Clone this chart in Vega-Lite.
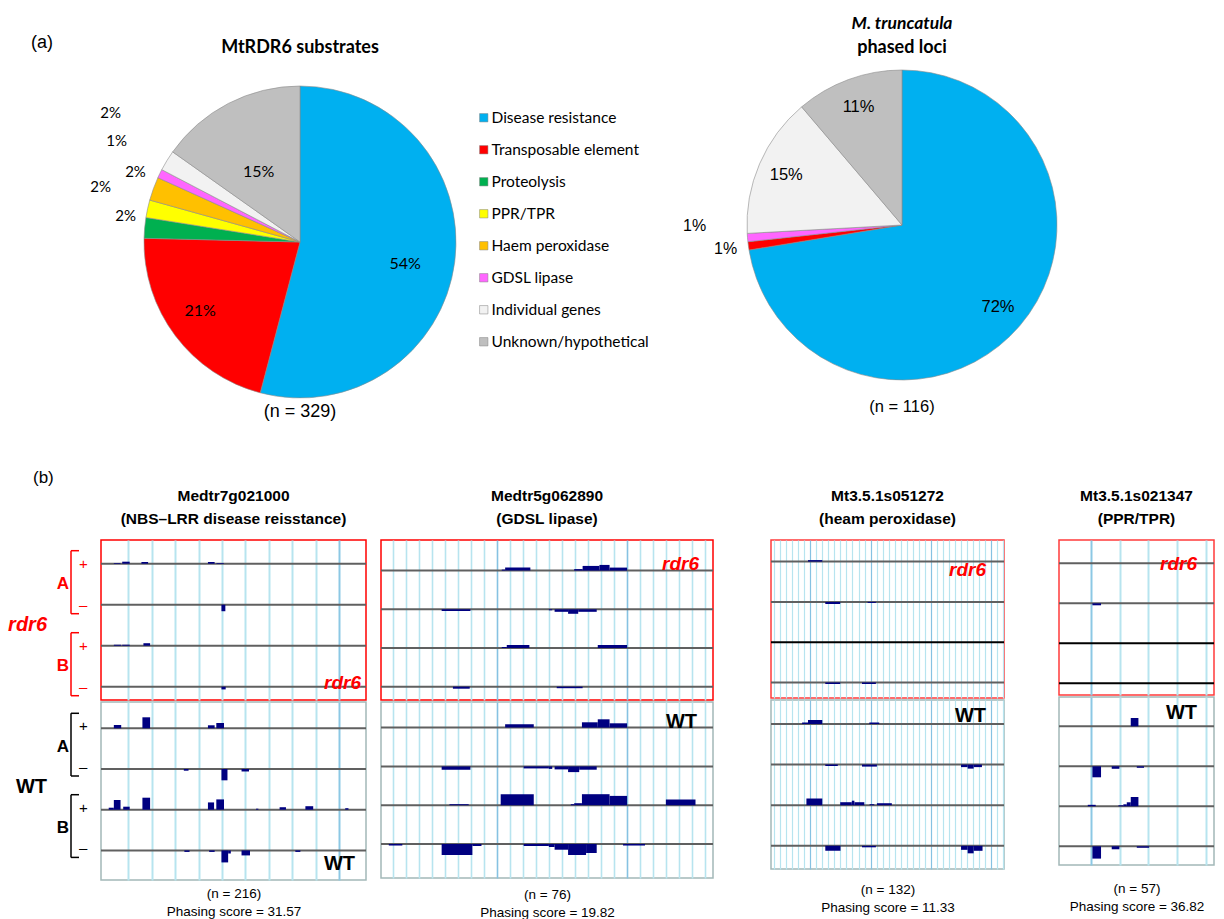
{
  "$schema": "https://vega.github.io/schema/vega-lite/v6.json",
  "background": "white",
  "padding": {"left": 0, "right": 0, "top": 10, "bottom": 0},
  "spacing": 47,
  "config": {"view": {"stroke": null}, "font": "Liberation Sans", "axis": {"labels": false, "ticks": false, "domain": false}},
  "datasets": {
    "pie1": [
      {"category": "Disease resistance", "rank": 1, "count": 178, "pct": 0.54},
      {"category": "Transposable element", "rank": 2, "count": 70, "pct": 0.21},
      {"category": "Proteolysis", "rank": 3, "count": 7, "pct": 0.02},
      {"category": "PPR/TPR", "rank": 4, "count": 6, "pct": 0.02},
      {"category": "Haem peroxidase", "rank": 5, "count": 8, "pct": 0.02},
      {"category": "GDSL lipase", "rank": 6, "count": 3, "pct": 0.01},
      {"category": "Individual genes", "rank": 7, "count": 7, "pct": 0.02},
      {"category": "Unknown/hypothetical", "rank": 8, "count": 50, "pct": 0.15}
    ],
    "pie2": [
      {"category": "Disease resistance", "rank": 1, "count": 84, "pct": 0.72},
      {"category": "Transposable element", "rank": 2, "count": 1, "pct": 0.01},
      {"category": "GDSL lipase", "rank": 6, "count": 1, "pct": 0.01},
      {"category": "Individual genes", "rank": 7, "count": 17, "pct": 0.15},
      {"category": "Unknown/hypothetical", "rank": 8, "count": 13, "pct": 0.11}
    ],
    "lanes": [
      {"panel": "p1", "geno": "rdr6", "lane": 0, "lib": "A", "strand": "+", "status": "reads"},
      {"panel": "p1", "geno": "rdr6", "lane": 1, "lib": "A", "strand": "–", "status": "reads"},
      {"panel": "p1", "geno": "rdr6", "lane": 2, "lib": "B", "strand": "+", "status": "reads"},
      {"panel": "p1", "geno": "rdr6", "lane": 3, "lib": "B", "strand": "–", "status": "reads"},
      {"panel": "p1", "geno": "WT", "lane": 0, "lib": "A", "strand": "+", "status": "reads"},
      {"panel": "p1", "geno": "WT", "lane": 1, "lib": "A", "strand": "–", "status": "reads"},
      {"panel": "p1", "geno": "WT", "lane": 2, "lib": "B", "strand": "+", "status": "reads"},
      {"panel": "p1", "geno": "WT", "lane": 3, "lib": "B", "strand": "–", "status": "reads"},
      {"panel": "p2", "geno": "rdr6", "lane": 0, "lib": "A", "strand": "+", "status": "reads"},
      {"panel": "p2", "geno": "rdr6", "lane": 1, "lib": "A", "strand": "–", "status": "reads"},
      {"panel": "p2", "geno": "rdr6", "lane": 2, "lib": "B", "strand": "+", "status": "reads"},
      {"panel": "p2", "geno": "rdr6", "lane": 3, "lib": "B", "strand": "–", "status": "reads"},
      {"panel": "p2", "geno": "WT", "lane": 0, "lib": "A", "strand": "+", "status": "reads"},
      {"panel": "p2", "geno": "WT", "lane": 1, "lib": "A", "strand": "–", "status": "reads"},
      {"panel": "p2", "geno": "WT", "lane": 2, "lib": "B", "strand": "+", "status": "reads"},
      {"panel": "p2", "geno": "WT", "lane": 3, "lib": "B", "strand": "–", "status": "reads"},
      {"panel": "p3", "geno": "rdr6", "lane": 0, "lib": "A", "strand": "+", "status": "reads"},
      {"panel": "p3", "geno": "rdr6", "lane": 1, "lib": "A", "strand": "–", "status": "reads"},
      {"panel": "p3", "geno": "rdr6", "lane": 2, "lib": "B", "strand": "+", "status": "no reads"},
      {"panel": "p3", "geno": "rdr6", "lane": 3, "lib": "B", "strand": "–", "status": "reads"},
      {"panel": "p3", "geno": "WT", "lane": 0, "lib": "A", "strand": "+", "status": "reads"},
      {"panel": "p3", "geno": "WT", "lane": 1, "lib": "A", "strand": "–", "status": "reads"},
      {"panel": "p3", "geno": "WT", "lane": 2, "lib": "B", "strand": "+", "status": "reads"},
      {"panel": "p3", "geno": "WT", "lane": 3, "lib": "B", "strand": "–", "status": "reads"},
      {"panel": "p4", "geno": "rdr6", "lane": 0, "lib": "A", "strand": "+", "status": "reads"},
      {"panel": "p4", "geno": "rdr6", "lane": 1, "lib": "A", "strand": "–", "status": "reads"},
      {"panel": "p4", "geno": "rdr6", "lane": 2, "lib": "B", "strand": "+", "status": "no reads"},
      {"panel": "p4", "geno": "rdr6", "lane": 3, "lib": "B", "strand": "–", "status": "no reads"},
      {"panel": "p4", "geno": "WT", "lane": 0, "lib": "A", "strand": "+", "status": "reads"},
      {"panel": "p4", "geno": "WT", "lane": 1, "lib": "A", "strand": "–", "status": "reads"},
      {"panel": "p4", "geno": "WT", "lane": 2, "lib": "B", "strand": "+", "status": "reads"},
      {"panel": "p4", "geno": "WT", "lane": 3, "lib": "B", "strand": "–", "status": "reads"}
    ],
    "bars": [
      {"panel": "p1", "geno": "rdr6", "lane": 0, "start": 11.5, "end": 17.5, "v": 1.7},
      {"panel": "p1", "geno": "rdr6", "lane": 0, "start": 19, "end": 25.7, "v": 4.9},
      {"panel": "p1", "geno": "rdr6", "lane": 0, "start": 36.2, "end": 42.2, "v": 4.1},
      {"panel": "p1", "geno": "rdr6", "lane": 0, "start": 95.8, "end": 101.8, "v": 4.1},
      {"panel": "p1", "geno": "rdr6", "lane": 0, "start": 103.4, "end": 110, "v": 1.7},
      {"panel": "p1", "geno": "rdr6", "lane": 1, "start": 107.9, "end": 111.4, "v": -15.9},
      {"panel": "p1", "geno": "rdr6", "lane": 2, "start": 11.5, "end": 18.1, "v": 2.4},
      {"panel": "p1", "geno": "rdr6", "lane": 2, "start": 19, "end": 25.7, "v": 2.4},
      {"panel": "p1", "geno": "rdr6", "lane": 2, "start": 38, "end": 44, "v": 6.1},
      {"panel": "p1", "geno": "rdr6", "lane": 3, "start": 107.9, "end": 111.7, "v": -6.6},
      {"panel": "p1", "geno": "WT", "lane": 0, "start": 11.5, "end": 18.1, "v": 8.1},
      {"panel": "p1", "geno": "WT", "lane": 0, "start": 37.1, "end": 44, "v": 27},
      {"panel": "p1", "geno": "WT", "lane": 0, "start": 95.8, "end": 101.8, "v": 7.4},
      {"panel": "p1", "geno": "WT", "lane": 0, "start": 103.3, "end": 110.2, "v": 13},
      {"panel": "p1", "geno": "WT", "lane": 1, "start": 74.2, "end": 78.4, "v": -4.2},
      {"panel": "p1", "geno": "WT", "lane": 1, "start": 107.9, "end": 113.3, "v": -27.8},
      {"panel": "p1", "geno": "WT", "lane": 1, "start": 125.9, "end": 132.6, "v": -6.1},
      {"panel": "p1", "geno": "WT", "lane": 2, "start": 6.9, "end": 11.5, "v": 4.9},
      {"panel": "p1", "geno": "WT", "lane": 2, "start": 11.5, "end": 17.5, "v": 23.8},
      {"panel": "p1", "geno": "WT", "lane": 2, "start": 19.9, "end": 25.7, "v": 7.4},
      {"panel": "p1", "geno": "WT", "lane": 2, "start": 37.1, "end": 44, "v": 29.5},
      {"panel": "p1", "geno": "WT", "lane": 2, "start": 95.8, "end": 101.3, "v": 17.9},
      {"panel": "p1", "geno": "WT", "lane": 2, "start": 103.3, "end": 110.2, "v": 25.3},
      {"panel": "p1", "geno": "WT", "lane": 2, "start": 138.9, "end": 141, "v": 2.5},
      {"panel": "p1", "geno": "WT", "lane": 2, "start": 160, "end": 165.7, "v": 6.1},
      {"panel": "p1", "geno": "WT", "lane": 2, "start": 183.1, "end": 190.1, "v": 8.6},
      {"panel": "p1", "geno": "WT", "lane": 2, "start": 218.8, "end": 221.7, "v": 3.7},
      {"panel": "p1", "geno": "WT", "lane": 3, "start": 74.7, "end": 79.3, "v": -3.7},
      {"panel": "p1", "geno": "WT", "lane": 3, "start": 96.9, "end": 101.8, "v": -3.7},
      {"panel": "p1", "geno": "WT", "lane": 3, "start": 107.9, "end": 113.9, "v": -29.5},
      {"panel": "p1", "geno": "WT", "lane": 3, "start": 113.9, "end": 116.3, "v": -7.4},
      {"panel": "p1", "geno": "WT", "lane": 3, "start": 125.9, "end": 133.5, "v": -12.3},
      {"panel": "p1", "geno": "WT", "lane": 3, "start": 174.1, "end": 178.6, "v": -3.7},
      {"panel": "p2", "geno": "rdr6", "lane": 0, "start": 195.3, "end": 200.8, "v": 2.6},
      {"panel": "p2", "geno": "rdr6", "lane": 0, "start": 200.8, "end": 241.6, "v": 7.8},
      {"panel": "p2", "geno": "rdr6", "lane": 0, "start": 312.5, "end": 326.1, "v": 3.9},
      {"panel": "p2", "geno": "rdr6", "lane": 0, "start": 326.1, "end": 353.3, "v": 12.1},
      {"panel": "p2", "geno": "rdr6", "lane": 0, "start": 353.3, "end": 369.7, "v": 14.7},
      {"panel": "p2", "geno": "rdr6", "lane": 0, "start": 369.7, "end": 398, "v": 7.8},
      {"panel": "p2", "geno": "rdr6", "lane": 1, "start": 98.1, "end": 144.6, "v": -4.4},
      {"panel": "p2", "geno": "rdr6", "lane": 1, "start": 271.5, "end": 277, "v": -2.6},
      {"panel": "p2", "geno": "rdr6", "lane": 1, "start": 280.8, "end": 302.6, "v": -6.5},
      {"panel": "p2", "geno": "rdr6", "lane": 1, "start": 302.6, "end": 319, "v": -11.6},
      {"panel": "p2", "geno": "rdr6", "lane": 1, "start": 319, "end": 348.9, "v": -6.5},
      {"panel": "p2", "geno": "rdr6", "lane": 2, "start": 195.3, "end": 203.4, "v": 2.6},
      {"panel": "p2", "geno": "rdr6", "lane": 2, "start": 203.4, "end": 240, "v": 7.8},
      {"panel": "p2", "geno": "rdr6", "lane": 2, "start": 350.6, "end": 398, "v": 7.8},
      {"panel": "p2", "geno": "rdr6", "lane": 3, "start": 116.3, "end": 143.5, "v": -5.2},
      {"panel": "p2", "geno": "rdr6", "lane": 3, "start": 284.2, "end": 326.1, "v": -3.9},
      {"panel": "p2", "geno": "WT", "lane": 0, "start": 200.8, "end": 247.1, "v": 8.5},
      {"panel": "p2", "geno": "WT", "lane": 0, "start": 325, "end": 350.6, "v": 13.7},
      {"panel": "p2", "geno": "WT", "lane": 0, "start": 350.6, "end": 369.7, "v": 21.4},
      {"panel": "p2", "geno": "WT", "lane": 0, "start": 369.7, "end": 398, "v": 11.1},
      {"panel": "p2", "geno": "WT", "lane": 1, "start": 98.1, "end": 144.6, "v": -8.5},
      {"panel": "p2", "geno": "WT", "lane": 1, "start": 230.7, "end": 271.5, "v": -5.2},
      {"panel": "p2", "geno": "WT", "lane": 1, "start": 271.5, "end": 277, "v": -6.4},
      {"panel": "p2", "geno": "WT", "lane": 1, "start": 280.8, "end": 302.6, "v": -7.7},
      {"panel": "p2", "geno": "WT", "lane": 1, "start": 302.6, "end": 320.6, "v": -14.7},
      {"panel": "p2", "geno": "WT", "lane": 1, "start": 320.6, "end": 348.9, "v": -8.5},
      {"panel": "p2", "geno": "WT", "lane": 2, "start": 110.7, "end": 141.8, "v": 2.6},
      {"panel": "p2", "geno": "WT", "lane": 2, "start": 193.6, "end": 247.1, "v": 28.4},
      {"panel": "p2", "geno": "WT", "lane": 2, "start": 307, "end": 312.5, "v": 2.6},
      {"panel": "p2", "geno": "WT", "lane": 2, "start": 312.5, "end": 325, "v": 5.2},
      {"panel": "p2", "geno": "WT", "lane": 2, "start": 325, "end": 369.7, "v": 28.4},
      {"panel": "p2", "geno": "WT", "lane": 2, "start": 369.7, "end": 398, "v": 24},
      {"panel": "p2", "geno": "WT", "lane": 2, "start": 460.8, "end": 508.7, "v": 14.7},
      {"panel": "p2", "geno": "WT", "lane": 3, "start": 12.6, "end": 34.5, "v": -3.9},
      {"panel": "p2", "geno": "WT", "lane": 3, "start": 98.1, "end": 147.8, "v": -28.4},
      {"panel": "p2", "geno": "WT", "lane": 3, "start": 147.8, "end": 162.5, "v": -5.2},
      {"panel": "p2", "geno": "WT", "lane": 3, "start": 230.7, "end": 271.5, "v": -5.2},
      {"panel": "p2", "geno": "WT", "lane": 3, "start": 271.5, "end": 280.8, "v": -7.7},
      {"panel": "p2", "geno": "WT", "lane": 3, "start": 280.8, "end": 302.6, "v": -14.7},
      {"panel": "p2", "geno": "WT", "lane": 3, "start": 302.6, "end": 331.7, "v": -28.4},
      {"panel": "p2", "geno": "WT", "lane": 3, "start": 331.7, "end": 348.9, "v": -23.2},
      {"panel": "p2", "geno": "WT", "lane": 3, "start": 391.5, "end": 427, "v": -3.9},
      {"panel": "p3", "geno": "rdr6", "lane": 0, "start": 129.3, "end": 179.2, "v": 3.7},
      {"panel": "p3", "geno": "rdr6", "lane": 1, "start": 189.7, "end": 241.8, "v": -5},
      {"panel": "p3", "geno": "rdr6", "lane": 1, "start": 337.5, "end": 366.5, "v": -2.5},
      {"panel": "p3", "geno": "rdr6", "lane": 3, "start": 189.7, "end": 241.8, "v": -3.7},
      {"panel": "p3", "geno": "rdr6", "lane": 3, "start": 317.9, "end": 366.5, "v": -3.7},
      {"panel": "p3", "geno": "WT", "lane": 0, "start": 108.7, "end": 129.3, "v": 3.7},
      {"panel": "p3", "geno": "WT", "lane": 0, "start": 129.3, "end": 179.2, "v": 9.9},
      {"panel": "p3", "geno": "WT", "lane": 0, "start": 343.5, "end": 378.1, "v": 3.7},
      {"panel": "p3", "geno": "WT", "lane": 1, "start": 189.7, "end": 233.4, "v": -3.7},
      {"panel": "p3", "geno": "WT", "lane": 1, "start": 317.9, "end": 370, "v": -4.9},
      {"panel": "p3", "geno": "WT", "lane": 1, "start": 663.9, "end": 687, "v": -6.2},
      {"panel": "p3", "geno": "WT", "lane": 1, "start": 687, "end": 708, "v": -9.9},
      {"panel": "p3", "geno": "WT", "lane": 1, "start": 708, "end": 736.9, "v": -6.2},
      {"panel": "p3", "geno": "WT", "lane": 2, "start": 123.7, "end": 179.2, "v": 16.5},
      {"panel": "p3", "geno": "WT", "lane": 2, "start": 241.8, "end": 282.3, "v": 7.4},
      {"panel": "p3", "geno": "WT", "lane": 2, "start": 282.3, "end": 291.4, "v": 11.1},
      {"panel": "p3", "geno": "WT", "lane": 2, "start": 291.4, "end": 326, "v": 7.4},
      {"panel": "p3", "geno": "WT", "lane": 2, "start": 344.5, "end": 360.9, "v": 2.5},
      {"panel": "p3", "geno": "WT", "lane": 2, "start": 370, "end": 422.1, "v": 4.9},
      {"panel": "p3", "geno": "WT", "lane": 3, "start": 189.7, "end": 242.9, "v": -12.3},
      {"panel": "p3", "geno": "WT", "lane": 3, "start": 317.9, "end": 366.5, "v": -3.7},
      {"panel": "p3", "geno": "WT", "lane": 3, "start": 663.9, "end": 687, "v": -9.9},
      {"panel": "p3", "geno": "WT", "lane": 3, "start": 687, "end": 708, "v": -18.5},
      {"panel": "p3", "geno": "WT", "lane": 3, "start": 708, "end": 739, "v": -12.3},
      {"panel": "p4", "geno": "rdr6", "lane": 1, "start": 24.4, "end": 30.7, "v": -5},
      {"panel": "p4", "geno": "WT", "lane": 0, "start": 52.4, "end": 58, "v": 20.8},
      {"panel": "p4", "geno": "WT", "lane": 1, "start": 24.4, "end": 30.7, "v": -27.5},
      {"panel": "p4", "geno": "WT", "lane": 1, "start": 38.5, "end": 44.1, "v": -6.2},
      {"panel": "p4", "geno": "WT", "lane": 1, "start": 56.8, "end": 62.1, "v": -3.7},
      {"panel": "p4", "geno": "WT", "lane": 2, "start": 21, "end": 26.8, "v": 3.7},
      {"panel": "p4", "geno": "WT", "lane": 2, "start": 43.4, "end": 47, "v": 2.5},
      {"panel": "p4", "geno": "WT", "lane": 2, "start": 47, "end": 49.5, "v": 5},
      {"panel": "p4", "geno": "WT", "lane": 2, "start": 49.5, "end": 52.4, "v": 10},
      {"panel": "p4", "geno": "WT", "lane": 2, "start": 52.4, "end": 58, "v": 23.2},
      {"panel": "p4", "geno": "WT", "lane": 3, "start": 24.4, "end": 30.7, "v": -30.8},
      {"panel": "p4", "geno": "WT", "lane": 3, "start": 38.5, "end": 44.1, "v": -7.5},
      {"panel": "p4", "geno": "WT", "lane": 3, "start": 56.8, "end": 65.8, "v": -3.7}
    ]
  },
  "vconcat": [
    {
      "spacing": 0,
      "resolve": {"scale": {"color": "independent"}},
      "hconcat": [
        {
          "width": 77, "height": 10,
          "title": {"text": " ", "subtitle": "(a)", "fontSize": 17.5, "subtitleFontSize": 18, "font": "Lato", "subtitleFont": "Liberation Sans", "fontWeight": "bold", "subtitleFontWeight": "normal", "subtitleColor": "#000000", "subtitlePadding": 6, "offset": 13, "dx": 3.5, "anchor": "middle"},
          "data": {"values": [{}]},
          "mark": {"type": "text", "text": ""}
        },
        {
          "width": 446, "height": 352,
          "title": {"text": " ", "subtitle": "MtRDR6 substrates", "fontSize": 17.5, "subtitleFontSize": 18, "font": "Lato", "subtitleFont": "Lato", "fontWeight": "bold", "subtitleFontWeight": "bold", "subtitleColor": "#000000", "subtitlePadding": 6, "offset": 9, "anchor": "middle"},
          "data": {"name": "pie1"},
          "layer": [
            {
              "mark": {"type": "arc", "radius": 156, "stroke": "#8c8c8c", "strokeWidth": 0.6},
              "encoding": {
                "theta": {"field": "count", "type": "quantitative", "stack": true, "scale": {"domain": [0, 329]}},
                "order": {"field": "rank", "type": "quantitative"},
                "color": {"field": "category", "type": "nominal",
                  "scale": {"domain": ["Disease resistance", "Transposable element", "Proteolysis", "PPR/TPR", "Haem peroxidase", "GDSL lipase", "Individual genes", "Unknown/hypothetical"],
                            "range": ["#00b0f0", "#ff0000", "#00b050", "#ffff00", "#ffc000", "#ff66ff", "#f2f2f2", "#bfbfbf"]},
                  "legend": {"orient": "none", "legendX": 399, "legendY": 44, "title": null, "symbolType": "square", "symbolSize": 70, "symbolStrokeColor": "#808080", "symbolStrokeWidth": 0.5, "labelFont": "Lato", "labelFontSize": 15.5, "labelColor": "#000000", "rowPadding": 15, "labelOffset": 0, "padding": 0, "labelLimit": 300}}
              }
            },
            {
              "transform": [{"filter": "datum.rank <= 1"}],
              "mark": {"type": "text", "radius": 106, "fontSize": 16, "font": "Lato", "dy": 8},
              "encoding": {
                "theta": {"field": "count", "type": "quantitative", "stack": true, "scale": {"domain": [0, 329]}},
                "order": {"field": "rank", "type": "quantitative"},
                "text": {"field": "pct", "type": "quantitative", "format": ".0%"}
              }
            },
            {
              "transform": [{"filter": "datum.rank <= 2"}],
              "mark": {"type": "text", "radius": 125, "fontSize": 16, "font": "Lato", "dy": -6},
              "encoding": {
                "theta": {"field": "count", "type": "quantitative", "stack": true, "scale": {"domain": [0, 329]}},
                "order": {"field": "rank", "type": "quantitative"},
                "text": {"field": "pct", "type": "quantitative", "format": ".0%", "condition": {"test": "datum.category !== 'Transposable element'", "value": ""}}
              }
            },
            {
              "mark": {"type": "text", "radius": 90, "fontSize": 16, "font": "Lato", "dy": 10},
              "encoding": {
                "theta": {"field": "count", "type": "quantitative", "stack": true, "scale": {"domain": [0, 329]}},
                "order": {"field": "rank", "type": "quantitative"},
                "text": {"field": "pct", "type": "quantitative", "format": ".0%", "condition": {"test": "datum.category !== 'Unknown/hypothetical'", "value": ""}}
              }
            },
            {
              "transform": [{"filter": "datum.rank <= 5"}],
              "mark": {"type": "text", "radius": 175, "fontSize": 15, "font": "Lato", "dy": -10},
              "encoding": {
                "theta": {"field": "count", "type": "quantitative", "stack": true, "scale": {"domain": [0, 329]}},
                "order": {"field": "rank", "type": "quantitative"},
                "text": {"field": "pct", "type": "quantitative", "format": ".0%", "condition": {"test": "indexof(['Proteolysis', 'Haem peroxidase'], datum.category) < 0", "value": ""}}
              }
            },
            {
              "transform": [{"filter": "datum.rank <= 6"}],
              "mark": {"type": "text", "radius": 204, "fontSize": 15, "font": "Lato", "dy": -12},
              "encoding": {
                "theta": {"field": "count", "type": "quantitative", "stack": true, "scale": {"domain": [0, 329]}},
                "order": {"field": "rank", "type": "quantitative"},
                "text": {"field": "pct", "type": "quantitative", "format": ".0%", "condition": {"test": "indexof(['PPR/TPR', 'GDSL lipase'], datum.category) < 0", "value": ""}}
              }
            },
            {
              "transform": [{"filter": "datum.rank <= 7"}],
              "mark": {"type": "text", "radius": 222, "fontSize": 15, "font": "Lato", "dy": -13},
              "encoding": {
                "theta": {"field": "count", "type": "quantitative", "stack": true, "scale": {"domain": [0, 329]}},
                "order": {"field": "rank", "type": "quantitative"},
                "text": {"field": "pct", "type": "quantitative", "format": ".0%", "condition": {"test": "datum.category !== 'Individual genes'", "value": ""}}
              }
            },
            {
              "data": {"values": [{"n": 329}]},
              "mark": {"type": "text", "dy": 170, "fontSize": 18, "text": "(n = 329)"},
              "encoding": {}
            }
          ]
        },
        {
          "width": 34, "height": 10,
          "data": {"values": [{}]},
          "mark": {"type": "text", "text": ""}
        },
        {
          "width": 318, "height": 318,
          "title": {"text": "M. truncatula", "subtitle": "phased loci", "fontSize": 17.5, "subtitleFontSize": 18, "font": "Lato", "subtitleFont": "Lato", "fontWeight": "bold", "fontStyle": "italic", "subtitleFontWeight": "bold", "subtitleColor": "#000000", "subtitlePadding": 7, "offset": 9, "anchor": "middle"},
          "data": {"name": "pie2"},
          "layer": [
            {
              "mark": {"type": "arc", "radius": 155, "stroke": "#8c8c8c", "strokeWidth": 0.6},
              "encoding": {
                "theta": {"field": "count", "type": "quantitative", "stack": true, "scale": {"domain": [0, 116]}},
                "order": {"field": "rank", "type": "quantitative"},
                "color": {"field": "category", "type": "nominal",
                  "scale": {"domain": ["Disease resistance", "Transposable element", "Proteolysis", "PPR/TPR", "Haem peroxidase", "GDSL lipase", "Individual genes", "Unknown/hypothetical"],
                            "range": ["#00b0f0", "#ff0000", "#00b050", "#ffff00", "#ffc000", "#ff66ff", "#f2f2f2", "#bfbfbf"]},
                  "legend": null}
              }
            },
            {
              "mark": {"type": "text", "radius": 126, "fontSize": 16.5},
              "encoding": {
                "theta": {"field": "count", "type": "quantitative", "stack": true, "scale": {"domain": [0, 116]}},
                "order": {"field": "rank", "type": "quantitative"},
                "text": {"field": "pct", "type": "quantitative", "format": ".0%", "condition": {"test": "datum.pct < 0.05", "value": ""}}
              }
            },
            {
              "transform": [{"filter": "datum.rank <= 2"}],
              "mark": {"type": "text", "radius": 178, "fontSize": 16},
              "encoding": {
                "theta": {"field": "count", "type": "quantitative", "stack": true, "scale": {"domain": [0, 116]}},
                "order": {"field": "rank", "type": "quantitative"},
                "text": {"field": "pct", "type": "quantitative", "format": ".0%", "condition": {"test": "datum.category !== 'Transposable element'", "value": ""}}
              }
            },
            {
              "transform": [{"filter": "datum.rank <= 6"}],
              "mark": {"type": "text", "radius": 208, "fontSize": 16, "dy": -16},
              "encoding": {
                "theta": {"field": "count", "type": "quantitative", "stack": true, "scale": {"domain": [0, 116]}},
                "order": {"field": "rank", "type": "quantitative"},
                "text": {"field": "pct", "type": "quantitative", "format": ".0%", "condition": {"test": "datum.category !== 'GDSL lipase'", "value": ""}}
              }
            },
            {
              "data": {"values": [{"n": 116}]},
              "mark": {"type": "text", "dy": 182, "fontSize": 16.5, "text": "(n = 116)"},
              "encoding": {}
            }
          ]
        }
      ]
    },
    {
      "title": {"text": "(b)", "anchor": "start", "dx": 33, "fontSize": 17, "fontWeight": "normal", "font": "Liberation Sans", "offset": 2, "color": "#000000"},
      "spacing": 11,
      "hconcat": [
        {
          "title": {"text": [" ", " "], "fontSize": 15.5, "fontWeight": "bold", "lineHeight": 23, "offset": 12, "anchor": "middle"},
          "spacing": 0,
          "vconcat": [
            {
              "width": 85, "height": 160,
              "data": {"name": "lanes"},
              "transform": [{"filter": "datum.panel === 'p1' && datum.geno === 'rdr6'"}],
              "layer": [
                {"mark": {"type": "text", "align": "left", "fontSize": 15, "color": "#ff0000"},
                 "encoding": {"x": {"datum": "strand", "type": "nominal", "scale": {"type": "point", "domain": ["geno", "gap", "lib", "bracket", "strand"], "range": [43, 83]}, "axis": null},
                              "y": {"field": "lane", "type": "quantitative", "scale": {"domain": [-0.578, 3.324], "reverse": true, "nice": false, "zero": false}, "axis": null},
                              "text": {"field": "strand"}}},
                {"mark": {"type": "text", "fontSize": 17, "fontWeight": "bold", "color": "#ff0000"},
                 "encoding": {"x": {"datum": "lib", "type": "nominal"},
                              "y": {"aggregate": "mean", "field": "lane", "type": "quantitative"},
                              "text": {"field": "lib"}}},
                {"mark": {"type": "rule", "color": "#ff0000", "strokeWidth": 1.5, "yOffset": -13, "y2Offset": 9},
                 "encoding": {"x": {"datum": "bracket", "type": "nominal"},
                              "y": {"aggregate": "min", "field": "lane", "type": "quantitative"},
                              "y2": {"aggregate": "max", "field": "lane"},
                              "detail": {"field": "lib"}}},
                {"mark": {"type": "rule", "color": "#ff0000", "strokeWidth": 1.5, "yOffset": -13},
                 "encoding": {"x": {"datum": "bracket", "type": "nominal"}, "x2": {"datum": "strand"},
                              "y": {"aggregate": "min", "field": "lane", "type": "quantitative"},
                              "detail": {"field": "lib"}}},
                {"mark": {"type": "rule", "color": "#ff0000", "strokeWidth": 1.5, "yOffset": 9},
                 "encoding": {"x": {"datum": "bracket", "type": "nominal"}, "x2": {"datum": "strand"},
                              "y": {"aggregate": "max", "field": "lane", "type": "quantitative"},
                              "detail": {"field": "lib"}}},
                {"mark": {"type": "text", "align": "right", "fontSize": 20, "fontWeight": "bold", "fontStyle": "italic", "color": "#ff0000"},
                 "encoding": {"x": {"datum": "geno", "type": "nominal"},
                              "y": {"aggregate": "mean", "field": "lane", "type": "quantitative"},
                              "text": {"field": "geno"}}}
              ]
            },
            {
              "width": 85, "height": 178,
              "data": {"name": "lanes"},
              "transform": [{"filter": "datum.panel === 'p1' && datum.geno === 'WT'"}],
              "layer": [
                {"mark": {"type": "text", "align": "left", "fontSize": 15, "color": "#000000"},
                 "encoding": {"x": {"datum": "strand", "type": "nominal", "scale": {"type": "point", "domain": ["geno", "gap", "lib", "bracket", "strand"], "range": [43, 83]}, "axis": null},
                              "y": {"field": "lane", "type": "quantitative", "scale": {"domain": [-0.646, 3.727], "reverse": true, "nice": false, "zero": false}, "axis": null},
                              "text": {"field": "strand"}}},
                {"mark": {"type": "text", "fontSize": 17, "fontWeight": "bold", "color": "#000000"},
                 "encoding": {"x": {"datum": "lib", "type": "nominal"},
                              "y": {"aggregate": "mean", "field": "lane", "type": "quantitative"},
                              "text": {"field": "lib"}}},
                {"mark": {"type": "rule", "color": "#000000", "strokeWidth": 1.5, "yOffset": -13, "y2Offset": 9},
                 "encoding": {"x": {"datum": "bracket", "type": "nominal"},
                              "y": {"aggregate": "min", "field": "lane", "type": "quantitative"},
                              "y2": {"aggregate": "max", "field": "lane"},
                              "detail": {"field": "lib"}}},
                {"mark": {"type": "rule", "color": "#000000", "strokeWidth": 1.5, "yOffset": -13},
                 "encoding": {"x": {"datum": "bracket", "type": "nominal"}, "x2": {"datum": "strand"},
                              "y": {"aggregate": "min", "field": "lane", "type": "quantitative"},
                              "detail": {"field": "lib"}}},
                {"mark": {"type": "rule", "color": "#000000", "strokeWidth": 1.5, "yOffset": 9},
                 "encoding": {"x": {"datum": "bracket", "type": "nominal"}, "x2": {"datum": "strand"},
                              "y": {"aggregate": "max", "field": "lane", "type": "quantitative"},
                              "detail": {"field": "lib"}}},
                {"mark": {"type": "text", "align": "right", "fontSize": 20, "fontWeight": "bold", "color": "#000000"},
                 "encoding": {"x": {"datum": "geno", "type": "nominal"},
                              "y": {"aggregate": "mean", "field": "lane", "type": "quantitative"},
                              "text": {"field": "geno"}}}
              ]
            }
          ]
        },
        {
          "title": {"text": ["Medtr7g021000", "(NBS–LRR disease reisstance)"], "fontSize": 15.5, "fontWeight": "bold", "lineHeight": 23, "offset": 12, "color": "#000000", "anchor": "middle"},
          "spacing": 0,
          "vconcat": [
            {
              "width": 265, "height": 160,
              "view": {"stroke": "#ff0000", "strokeWidth": 1.5},
              "title": {"text": "rdr6", "orient": "bottom", "anchor": "end", "baseline": "alphabetic", "offset": -11, "dx": -6, "color": "#ff0000", "fontSize": 19, "fontStyle": "italic", "fontWeight": "bold"},
              "layer": [
                {"data": {"name": "lanes"}, "transform": [{"filter": "datum.panel === 'p1' && datum.geno === 'rdr6'"}],
                 "mark": {"type": "rule", "strokeWidth": 2},
                 "encoding": {"y": {"field": "lane", "type": "quantitative", "scale": {"domain": [-0.578, 3.324], "reverse": true, "nice": false, "zero": false}, "axis": null},
                              "stroke": {"field": "status", "type": "nominal", "scale": {"domain": ["reads", "no reads"], "range": ["#606060", "#000000"]}, "legend": null}}},
                {"data": {"name": "bars"}, "transform": [{"filter": "datum.panel === 'p1' && datum.geno === 'rdr6'"}, {"calculate": "datum.lane - datum.v / 100", "as": "top"}],
                 "mark": {"type": "rect", "color": "#000080"},
                 "encoding": {"x": {"field": "start", "type": "quantitative", "scale": {"domain": [0, 237.4], "nice": false, "zero": false},
                                    "axis": {"values": [24.4, 45.4, 66.4, 87.4, 108.4, 129.4, 150.4, 171.4, 192.4, 213.4], "grid": true, "gridWidth": 2, "gridColor": {"condition": {"test": "datum.value === 213.4", "value": "#8cc8e4"}, "value": "#b7e4ef"}, "title": null}},
                              "x2": {"field": "end"},
                              "y": {"field": "lane", "type": "quantitative", "scale": {"domain": [-0.578, 3.324], "reverse": true, "nice": false, "zero": false}, "axis": null},
                              "y2": {"field": "top"}}}
              ]
            },
            {
              "width": 265, "height": 178,
              "view": {"stroke": "#a3b8b8", "strokeWidth": 1.5},
              "title": {"text": "WT", "orient": "bottom", "anchor": "end", "baseline": "alphabetic", "offset": -48, "dx": -12, "color": "#000000", "fontSize": 20, "fontWeight": "bold"},
              "layer": [
                {"data": {"name": "lanes"}, "transform": [{"filter": "datum.panel === 'p1' && datum.geno === 'WT'"}],
                 "mark": {"type": "rule", "strokeWidth": 2},
                 "encoding": {"y": {"field": "lane", "type": "quantitative", "scale": {"domain": [-0.646, 3.727], "reverse": true, "nice": false, "zero": false}, "axis": null},
                              "stroke": {"field": "status", "type": "nominal", "scale": {"domain": ["reads", "no reads"], "range": ["#606060", "#000000"]}, "legend": null}}},
                {"data": {"name": "bars"}, "transform": [{"filter": "datum.panel === 'p1' && datum.geno === 'WT'"}, {"calculate": "datum.lane - datum.v / 100", "as": "top"}],
                 "mark": {"type": "rect", "color": "#000080"},
                 "encoding": {"x": {"field": "start", "type": "quantitative", "scale": {"domain": [0, 237.4], "nice": false, "zero": false},
                                    "axis": {"values": [24.4, 45.4, 66.4, 87.4, 108.4, 129.4, 150.4, 171.4, 192.4, 213.4], "grid": true, "gridWidth": 2, "gridColor": {"condition": {"test": "datum.value === 213.4", "value": "#8cc8e4"}, "value": "#b7e4ef"},
                                             "title": ["(n = 216)", "Phasing score = 31.57"], "titleFontSize": 13.5, "titleFontWeight": "normal", "titleColor": "#000000", "titlePadding": 6, "titleLineHeight": 18}},
                              "x2": {"field": "end"},
                              "y": {"field": "lane", "type": "quantitative", "scale": {"domain": [-0.646, 3.727], "reverse": true, "nice": false, "zero": false}, "axis": null},
                              "y2": {"field": "top"}}}
              ]
            }
          ]
        },
        {
          "title": {"text": ["Medtr5g062890", "(GDSL lipase)"], "fontSize": 15.5, "fontWeight": "bold", "lineHeight": 23, "offset": 12, "color": "#000000", "anchor": "middle"},
          "spacing": 0,
          "vconcat": [
            {
              "width": 332, "height": 160,
              "view": {"stroke": "#ff0000", "strokeWidth": 1.5},
              "title": {"text": "rdr6", "orient": "top", "anchor": "end", "baseline": "alphabetic", "offset": -49, "dx": -15, "color": "#ff0000", "fontSize": 19, "fontStyle": "italic", "fontWeight": "bold"},
              "layer": [
                {"data": {"name": "lanes"}, "transform": [{"filter": "datum.panel === 'p2' && datum.geno === 'rdr6'"}],
                 "mark": {"type": "rule", "strokeWidth": 2},
                 "encoding": {"y": {"field": "lane", "type": "quantitative", "scale": {"domain": [-0.791, 3.344], "reverse": true, "nice": false, "zero": false}, "axis": null},
                              "stroke": {"field": "status", "type": "nominal", "scale": {"domain": ["reads", "no reads"], "range": ["#606060", "#000000"]}, "legend": null}}},
                {"data": {"name": "bars"}, "transform": [{"filter": "datum.panel === 'p2' && datum.geno === 'rdr6'"}, {"calculate": "datum.lane - datum.v / 100", "as": "top"}],
                 "mark": {"type": "rect", "color": "#000080"},
                 "encoding": {"x": {"field": "start", "type": "quantitative", "scale": {"domain": [0, 537], "nice": false, "zero": false},
                                    "axis": {"values": [19.8, 40.8, 61.8, 82.8, 103.8, 124.8, 145.8, 166.8, 187.8, 208.8, 229.8, 250.8, 271.8, 292.8, 313.8, 334.8, 355.8, 376.8, 397.8, 418.8, 439.8, 460.8, 481.8, 502.8, 523.8], "grid": true, "gridWidth": 1.6, "gridColor": {"condition": {"test": "datum.value === 187.8 || datum.value === 397.8", "value": "#86c2e2"}, "value": "#b7e4ef"}, "title": null}},
                              "x2": {"field": "end"},
                              "y": {"field": "lane", "type": "quantitative", "scale": {"domain": [-0.791, 3.344], "reverse": true, "nice": false, "zero": false}, "axis": null},
                              "y2": {"field": "top"}}}
              ]
            },
            {
              "width": 332, "height": 176,
              "view": {"stroke": "#a3b8b8", "strokeWidth": 1.5},
              "title": {"text": "WT", "orient": "top", "anchor": "end", "baseline": "alphabetic", "offset": -46, "dx": -17, "color": "#000000", "fontSize": 20, "fontWeight": "bold"},
              "layer": [
                {"data": {"name": "lanes"}, "transform": [{"filter": "datum.panel === 'p2' && datum.geno === 'WT'"}],
                 "mark": {"type": "rule", "strokeWidth": 2},
                 "encoding": {"y": {"field": "lane", "type": "quantitative", "scale": {"domain": [-0.66, 3.876], "reverse": true, "nice": false, "zero": false}, "axis": null},
                              "stroke": {"field": "status", "type": "nominal", "scale": {"domain": ["reads", "no reads"], "range": ["#606060", "#000000"]}, "legend": null}}},
                {"data": {"name": "bars"}, "transform": [{"filter": "datum.panel === 'p2' && datum.geno === 'WT'"}, {"calculate": "datum.lane - datum.v / 100", "as": "top"}],
                 "mark": {"type": "rect", "color": "#000080"},
                 "encoding": {"x": {"field": "start", "type": "quantitative", "scale": {"domain": [0, 537], "nice": false, "zero": false},
                                    "axis": {"values": [19.8, 40.8, 61.8, 82.8, 103.8, 124.8, 145.8, 166.8, 187.8, 208.8, 229.8, 250.8, 271.8, 292.8, 313.8, 334.8, 355.8, 376.8, 397.8, 418.8, 439.8, 460.8, 481.8, 502.8, 523.8], "grid": true, "gridWidth": 1.6, "gridColor": {"condition": {"test": "datum.value === 187.8 || datum.value === 397.8", "value": "#86c2e2"}, "value": "#b7e4ef"},
                                             "title": ["(n = 76)", "Phasing score = 19.82"], "titleFontSize": 13.5, "titleFontWeight": "normal", "titleColor": "#000000", "titlePadding": 9, "titleLineHeight": 18}},
                              "x2": {"field": "end"},
                              "y": {"field": "lane", "type": "quantitative", "scale": {"domain": [-0.66, 3.876], "reverse": true, "nice": false, "zero": false}, "axis": null},
                              "y2": {"field": "top"}}}
              ]
            }
          ]
        },
        {
          "width": 32, "height": 10,
          "data": {"values": [{}]},
          "mark": {"type": "text", "text": ""}
        },
        {
          "title": {"text": ["Mt3.5.1s051272", "(heam peroxidase)"], "fontSize": 15.5, "fontWeight": "bold", "lineHeight": 23, "offset": 12, "color": "#000000", "anchor": "middle"},
          "spacing": 0,
          "vconcat": [
            {
              "width": 233, "height": 158,
              "view": {"stroke": "#ff3b3b", "strokeWidth": 1.5},
              "title": {"text": "rdr6", "orient": "top", "anchor": "end", "baseline": "alphabetic", "offset": -55, "dx": -19, "color": "#ff0000", "fontSize": 19, "fontStyle": "italic", "fontWeight": "bold"},
              "layer": [
                {"data": {"name": "lanes"}, "transform": [{"filter": "datum.panel === 'p3' && datum.geno === 'rdr6'"}],
                 "mark": {"type": "rule", "strokeWidth": 2},
                 "encoding": {"y": {"field": "lane", "type": "quantitative", "scale": {"domain": [-0.536, 3.385], "reverse": true, "nice": false, "zero": false}, "axis": null},
                              "stroke": {"field": "status", "type": "nominal", "scale": {"domain": ["reads", "no reads"], "range": ["#606060", "#000000"]}, "legend": null}}},
                {"data": {"name": "bars"}, "transform": [{"filter": "datum.panel === 'p3' && datum.geno === 'rdr6'"}, {"calculate": "datum.lane - datum.v / 100", "as": "top"}],
                 "mark": {"type": "rect", "color": "#000080"},
                 "encoding": {"x": {"field": "start", "type": "quantitative", "scale": {"domain": [0, 814], "nice": false, "zero": false},
                                    "axis": {"values": [11.7, 32.7, 53.7, 74.7, 95.7, 116.7, 137.7, 158.7, 179.7, 200.7, 221.7, 242.7, 263.7, 284.7, 305.7, 326.7, 347.7, 368.7, 389.7, 410.7, 431.7, 452.7, 473.7, 494.7, 515.7, 536.7, 557.7, 578.7, 599.7, 620.7, 641.7, 662.7, 683.7, 704.7, 725.7, 746.7, 767.7, 788.7, 809.7], "grid": true, "gridWidth": 1.2, "gridColor": {"condition": {"test": "indexof([137.7, 347.7, 557.7, 767.7], datum.value) >= 0", "value": "#86c2e2"}, "value": "#b7e4ef"}, "title": null}},
                              "x2": {"field": "end"},
                              "y": {"field": "lane", "type": "quantitative", "scale": {"domain": [-0.536, 3.385], "reverse": true, "nice": false, "zero": false}, "axis": null},
                              "y2": {"field": "top"}}}
              ]
            },
            {
              "width": 233, "height": 169,
              "view": {"stroke": "#a3b8b8", "strokeWidth": 1.5},
              "title": {"text": "WT", "orient": "top", "anchor": "end", "baseline": "alphabetic", "offset": -42, "dx": -19, "color": "#000000", "fontSize": 20, "fontWeight": "bold"},
              "layer": [
                {"data": {"name": "lanes"}, "transform": [{"filter": "datum.panel === 'p3' && datum.geno === 'WT'"}],
                 "mark": {"type": "rule", "strokeWidth": 2},
                 "encoding": {"y": {"field": "lane", "type": "quantitative", "scale": {"domain": [-0.591, 3.571], "reverse": true, "nice": false, "zero": false}, "axis": null},
                              "stroke": {"field": "status", "type": "nominal", "scale": {"domain": ["reads", "no reads"], "range": ["#606060", "#000000"]}, "legend": null}}},
                {"data": {"name": "bars"}, "transform": [{"filter": "datum.panel === 'p3' && datum.geno === 'WT'"}, {"calculate": "datum.lane - datum.v / 100", "as": "top"}],
                 "mark": {"type": "rect", "color": "#000080"},
                 "encoding": {"x": {"field": "start", "type": "quantitative", "scale": {"domain": [0, 814], "nice": false, "zero": false},
                                    "axis": {"values": [11.7, 32.7, 53.7, 74.7, 95.7, 116.7, 137.7, 158.7, 179.7, 200.7, 221.7, 242.7, 263.7, 284.7, 305.7, 326.7, 347.7, 368.7, 389.7, 410.7, 431.7, 452.7, 473.7, 494.7, 515.7, 536.7, 557.7, 578.7, 599.7, 620.7, 641.7, 662.7, 683.7, 704.7, 725.7, 746.7, 767.7, 788.7, 809.7], "grid": true, "gridWidth": 1.2, "gridColor": {"condition": {"test": "indexof([137.7, 347.7, 557.7, 767.7], datum.value) >= 0", "value": "#86c2e2"}, "value": "#b7e4ef"},
                                             "title": ["(n = 132)", "Phasing score = 11.33"], "titleFontSize": 13.5, "titleFontWeight": "normal", "titleColor": "#000000", "titlePadding": 13, "titleLineHeight": 18}},
                              "x2": {"field": "end"},
                              "y": {"field": "lane", "type": "quantitative", "scale": {"domain": [-0.591, 3.571], "reverse": true, "nice": false, "zero": false}, "axis": null},
                              "y2": {"field": "top"}}}
              ]
            }
          ]
        },
        {
          "width": 29, "height": 10,
          "data": {"values": [{}]},
          "mark": {"type": "text", "text": ""}
        },
        {
          "title": {"text": ["Mt3.5.1s021347", "(PPR/TPR)"], "fontSize": 15.5, "fontWeight": "bold", "lineHeight": 23, "offset": 12, "color": "#000000", "anchor": "middle"},
          "spacing": 0,
          "vconcat": [
            {
              "width": 155, "height": 155,
              "view": {"stroke": "#ff3b3b", "strokeWidth": 1.5},
              "title": {"text": "rdr6", "orient": "top", "anchor": "end", "baseline": "alphabetic", "offset": -49, "dx": -18, "color": "#ff0000", "fontSize": 19, "fontStyle": "italic", "fontWeight": "bold"},
              "layer": [
                {"data": {"name": "lanes"}, "transform": [{"filter": "datum.panel === 'p4' && datum.geno === 'rdr6'"}],
                 "mark": {"type": "rule", "strokeWidth": 2},
                 "encoding": {"y": {"field": "lane", "type": "quantitative", "scale": {"domain": [-0.583, 3.293], "reverse": true, "nice": false, "zero": false}, "axis": null},
                              "stroke": {"field": "status", "type": "nominal", "scale": {"domain": ["reads", "no reads"], "range": ["#606060", "#000000"]}, "legend": null}}},
                {"data": {"name": "bars"}, "transform": [{"filter": "datum.panel === 'p4' && datum.geno === 'rdr6'"}, {"calculate": "datum.lane - datum.v / 100", "as": "top"}],
                 "mark": {"type": "rect", "color": "#000080"},
                 "encoding": {"x": {"field": "start", "type": "quantitative", "scale": {"domain": [0, 113.2], "nice": false, "zero": false},
                                    "axis": {"values": [23.2, 44.2, 65.2, 86.2, 107.2], "grid": true, "gridWidth": 2, "gridColor": {"condition": {"test": "datum.value === 23.2", "value": "#8cc8e4"}, "value": "#b7e4ef"}, "title": null}},
                              "x2": {"field": "end"},
                              "y": {"field": "lane", "type": "quantitative", "scale": {"domain": [-0.583, 3.293], "reverse": true, "nice": false, "zero": false}, "axis": null},
                              "y2": {"field": "top"}}}
              ]
            },
            {
              "width": 155, "height": 168,
              "view": {"stroke": "#a3b8b8", "strokeWidth": 1.5},
              "title": {"text": "WT", "orient": "top", "anchor": "end", "baseline": "alphabetic", "offset": -42, "dx": -18, "color": "#000000", "fontSize": 20, "fontWeight": "bold"},
              "layer": [
                {"data": {"name": "lanes"}, "transform": [{"filter": "datum.panel === 'p4' && datum.geno === 'WT'"}],
                 "mark": {"type": "rule", "strokeWidth": 2},
                 "encoding": {"y": {"field": "lane", "type": "quantitative", "scale": {"domain": [-0.733, 3.468], "reverse": true, "nice": false, "zero": false}, "axis": null},
                              "stroke": {"field": "status", "type": "nominal", "scale": {"domain": ["reads", "no reads"], "range": ["#606060", "#000000"]}, "legend": null}}},
                {"data": {"name": "bars"}, "transform": [{"filter": "datum.panel === 'p4' && datum.geno === 'WT'"}, {"calculate": "datum.lane - datum.v / 100", "as": "top"}],
                 "mark": {"type": "rect", "color": "#000080"},
                 "encoding": {"x": {"field": "start", "type": "quantitative", "scale": {"domain": [0, 113.2], "nice": false, "zero": false},
                                    "axis": {"values": [23.2, 44.2, 65.2, 86.2, 107.2], "grid": true, "gridWidth": 2, "gridColor": {"condition": {"test": "datum.value === 23.2", "value": "#8cc8e4"}, "value": "#b7e4ef"},
                                             "title": ["(n = 57)", "Phasing score = 36.82"], "titleFontSize": 13.5, "titleFontWeight": "normal", "titleColor": "#000000", "titlePadding": 16, "titleLineHeight": 18}},
                              "x2": {"field": "end"},
                              "y": {"field": "lane", "type": "quantitative", "scale": {"domain": [-0.733, 3.468], "reverse": true, "nice": false, "zero": false}, "axis": null},
                              "y2": {"field": "top"}}}
              ]
            }
          ]
        }
      ]
    }
  ]
}
